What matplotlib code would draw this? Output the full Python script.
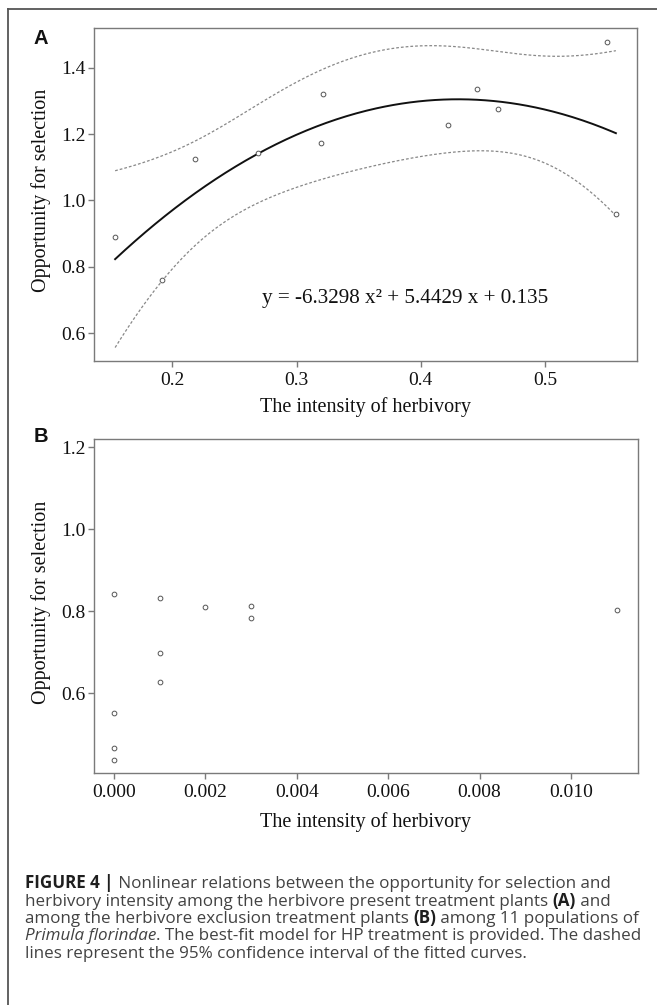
import numpy as np
import matplotlib
matplotlib.use("Agg")
import matplotlib.pyplot as plt
from matplotlib.font_manager import FontProperties
from matplotlib.lines import Line2D

# ---------------- data ----------------
# Panel A: herbivore present treatment
a_x = [0.154, 0.192, 0.218, 0.269, 0.320, 0.321, 0.422, 0.445, 0.462, 0.550, 0.557]
a_y = [0.889, 0.759, 1.126, 1.143, 1.172, 1.320, 1.227, 1.335, 1.275, 1.479, 0.960]
a_coef = [-6.3298, 5.4429, 0.135]          # best-fit quadratic (as printed)
a_eq = "y = -6.3298 x\u00b2 + 5.4429 x + 0.135"
a_xticks = [0.2, 0.3, 0.4, 0.5]
a_yticks = [0.6, 0.8, 1.0, 1.2, 1.4]

# Panel B: herbivore exclusion treatment
b_x = [0.000, 0.000, 0.000, 0.000, 0.001, 0.001, 0.001, 0.002, 0.003, 0.003, 0.011]
b_y = [0.841, 0.552, 0.465, 0.436, 0.833, 0.699, 0.628, 0.810, 0.812, 0.783, 0.803]
b_xticks = [0.000, 0.002, 0.004, 0.006, 0.008, 0.010]
b_yticks = [0.6, 0.8, 1.0, 1.2]

xlabel = "The intensity of herbivory"
ylabel = "Opportunity for selection"

# ---------------- figure ----------------
W, H = 657, 1005
fig = plt.figure(figsize=(W / 100, H / 100), dpi=100)
fig.patch.set_facecolor("white")

SERIF = "Liberation Serif"
SANS = "Liberation Sans"
CAP_FONT = "Open Sans"
TICK_FS = 14
LAB_FS = 14.5
AX_COL = "#7a7a7a"


def rect(l, t, r, b):
    return [l / W, 1 - b / H, (r - l) / W, (b - t) / H]


def style_axes(ax, xticks, yticks, xfmt, yfmt):
    for s in ax.spines.values():
        s.set_color(AX_COL)
        s.set_linewidth(1.0)
    ax.set_xticks(xticks)
    ax.set_yticks(yticks)
    ax.set_xticklabels([xfmt.format(v) for v in xticks])
    ax.set_yticklabels([yfmt.format(v) for v in yticks])
    ax.tick_params(direction="out", length=4, width=1.0, color=AX_COL,
                   labelsize=TICK_FS, labelcolor="#111111", top=False, right=False)
    ax.tick_params(axis="x", pad=4)
    ax.tick_params(axis="y", pad=2)
    for lab in ax.get_xticklabels() + ax.get_yticklabels():
        lab.set_fontfamily(SERIF)


# ---- Panel A ----
axA = fig.add_axes(rect(94, 28, 637, 361))
axA.set_xlim(0.137, 0.574)
axA.set_ylim(0.516, 1.52)
style_axes(axA, a_xticks, a_yticks, "{:.1f}", "{:.1f}")

xa = np.asarray(a_x)
ya = np.asarray(a_y)
xs = np.linspace(xa.min(), xa.max(), 300)
fit = np.polyval(a_coef, xs)
# 95% confidence band of the quadratic fit
X = np.column_stack([np.ones_like(xa), xa, xa ** 2])
resid = ya - np.polyval(a_coef, xa)
dof = len(xa) - 3
s2 = np.sum(resid ** 2) / dof
cov = s2 * np.linalg.inv(X.T @ X)
V = np.column_stack([np.ones_like(xs), xs, xs ** 2])
se = np.sqrt(np.einsum("ij,jk,ik->i", V, cov, V))
t975 = 2.306  # t(0.975, df=8)
axA.plot(xs, fit + t975 * se, color="#888888", lw=0.9, ls=(0, (2.2, 1.6)))
axA.plot(xs, fit - t975 * se, color="#888888", lw=0.9, ls=(0, (2.2, 1.6)))
axA.plot(xs, fit, color="#111111", lw=1.4)
axA.plot(a_x, a_y, ls="none", marker="o", ms=3.4, mfc="white", mec="#555555", mew=0.7)
axA.text(0.387, 0.704, a_eq, fontfamily=SERIF, fontsize=15.2, ha="center", va="center",
         color="#111111")

# ---- Panel B ----
axB = fig.add_axes(rect(94, 439, 638, 773))
axB.set_xlim(-0.00044, 0.01147)
axB.set_ylim(0.405, 1.22)
style_axes(axB, b_xticks, b_yticks, "{:.3f}", "{:.1f}")
axB.plot(b_x, b_y, ls="none", marker="o", ms=3.4, mfc="white", mec="#555555", mew=0.7)

# ---- axis labels (pinned) ----
fig.text(365 / W, 1 - 407 / H, xlabel, fontfamily=SERIF, fontsize=LAB_FS,
         ha="center", va="center", color="#111111")
fig.text(366 / W, 1 - 822 / H, xlabel, fontfamily=SERIF, fontsize=LAB_FS,
         ha="center", va="center", color="#111111")
fig.text(41 / W, 1 - 190 / H, ylabel, fontfamily=SERIF, fontsize=LAB_FS,
         ha="center", va="center", rotation=90, color="#111111")
fig.text(41 / W, 1 - 602 / H, ylabel, fontfamily=SERIF, fontsize=LAB_FS,
         ha="center", va="center", rotation=90, color="#111111")

# panel letters
fig.text(41 / W, 1 - 39 / H, "A", fontfamily=SANS, fontweight="bold", fontsize=14.5,
         ha="center", va="center", color="#111111")
fig.text(41 / W, 1 - 437 / H, "B", fontfamily=SANS, fontweight="bold", fontsize=14.5,
         ha="center", va="center", color="#111111")

# frame lines (top and left)
fig.add_artist(Line2D([8 / W, 1.0], [1 - 9 / H, 1 - 9 / H], transform=fig.transFigure,
                      color="#555555", lw=1.3))
fig.add_artist(Line2D([8 / W, 8 / W], [1 - 9 / H, 0.0], transform=fig.transFigure,
                      color="#555555", lw=1.3))

# ---------------- caption ----------------
renderer = fig.canvas.get_renderer()
CAP_COL = "#424242"


def fp(style, size):
    if style == "b":
        return FontProperties(family=CAP_FONT, weight="bold", size=size)
    if style == "i":
        return FontProperties(family=CAP_FONT, style="italic", size=size)
    return FontProperties(family=CAP_FONT, size=size)


def seg_width(text, prop):
    t1 = fig.text(0, 0, "|" + text + "|", fontproperties=prop)
    t2 = fig.text(0, 0, "||", fontproperties=prop)
    w = t1.get_window_extent(renderer).width - t2.get_window_extent(renderer).width
    t1.remove()
    t2.remove()
    return w


caption = [
    [("FIGURE 4 |", "b"), (" Nonlinear relations between the opportunity for selection and", "r")],
    [("herbivory intensity among the herbivore present treatment plants ", "r"), ("(A)", "b"), (" and", "r")],
    [("among the herbivore exclusion treatment plants ", "r"), ("(B)", "b"), (" among 11 populations of", "r")],
    [("Primula florindae", "i"), (". The best-fit model for HP treatment is provided. The dashed", "r")],
    [("lines represent the 95% confidence interval of the fitted curves.", "r")],
]
baselines = [888, 905.5, 923, 940.5, 958]

# choose size so line 4 spans ~616 px
ref_size = 10
w_ref = sum(seg_width(t, fp(s, ref_size)) for t, s in caption[3])
cap_size = ref_size * 616 / w_ref

for line, yb in zip(caption, baselines):
    x = 25.0
    for text, style in line:
        prop = fp(style, cap_size)
        col = "#1e1e1e" if style == "b" else CAP_COL
        fig.text(x / W, 1 - yb / H, text, fontproperties=prop, color=col,
                 ha="left", va="baseline")
        x += seg_width(text, prop)

fig.savefig("out.png", dpi=100)
